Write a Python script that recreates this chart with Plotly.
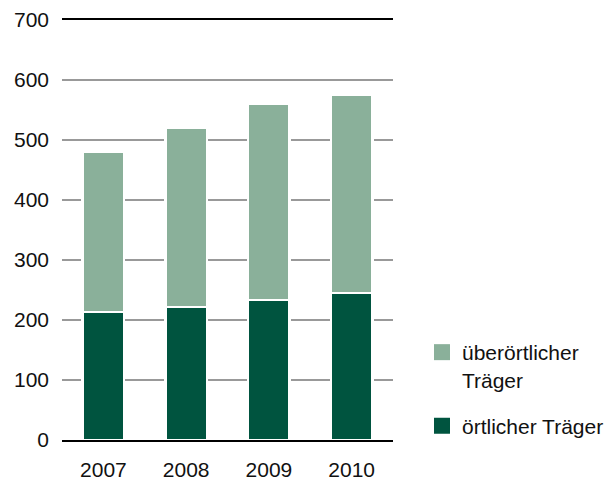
import plotly.graph_objects as go

years = ["2007", "2008", "2009", "2010"]
oertlich = [213, 222, 233, 245]
gesamt = [481, 520, 561, 576]
ueberoertlich = [g - o for g, o in zip(gesamt, oertlich)]

dark = "#00543F"
light = "#8AB09A"
font = "Liberation Sans, Arial, sans-serif"

fig = go.Figure()
fig.add_trace(go.Bar(x=years, y=oertlich, name="örtlicher Träger", marker=dict(color=dark, line=dict(color="white", width=2.5)), showlegend=False))
fig.add_trace(go.Bar(x=years, y=ueberoertlich, name="überörtlicher<br>Träger", marker=dict(color=light, line=dict(color="white", width=2.5)), showlegend=False))
# legend entries
fig.add_trace(go.Scatter(x=[None], y=[None], mode="markers", name="überörtlicher<br>Träger", legendgroup="a",
                         marker=dict(symbol="square", size=16, color=light)))
fig.add_trace(go.Scatter(x=[None], y=[None], mode="markers", name="örtlicher Träger", legendgroup="b",
                         marker=dict(symbol="square", size=16, color=dark)))

fig.update_layout(
    width=607, height=473,
    margin=dict(l=54, r=222, t=12, b=41, autoexpand=False),
    barmode="stack", bargap=0.5,
    paper_bgcolor="white", plot_bgcolor="white",
    font=dict(family=font, size=21, color="#111111"),
    legend=dict(x=0.682, y=0.315, xref="container", yref="container", xanchor="left", yanchor="top",
                traceorder="grouped", valign="top", tracegroupgap=16, font=dict(size=21, family=font)),
)
fig.update_xaxes(type="category", showline=True, mirror=True, linecolor="black", linewidth=2,
                 ticks="", showgrid=False, ticklabelstandoff=10, automargin=False)
fig.update_yaxes(range=[0, 700], dtick=100, showgrid=True, gridcolor="#999999", gridwidth=2,
                 zeroline=False, showline=False, ticks="", ticklabelstandoff=12, automargin=False)

fig.write_html("out.html")
